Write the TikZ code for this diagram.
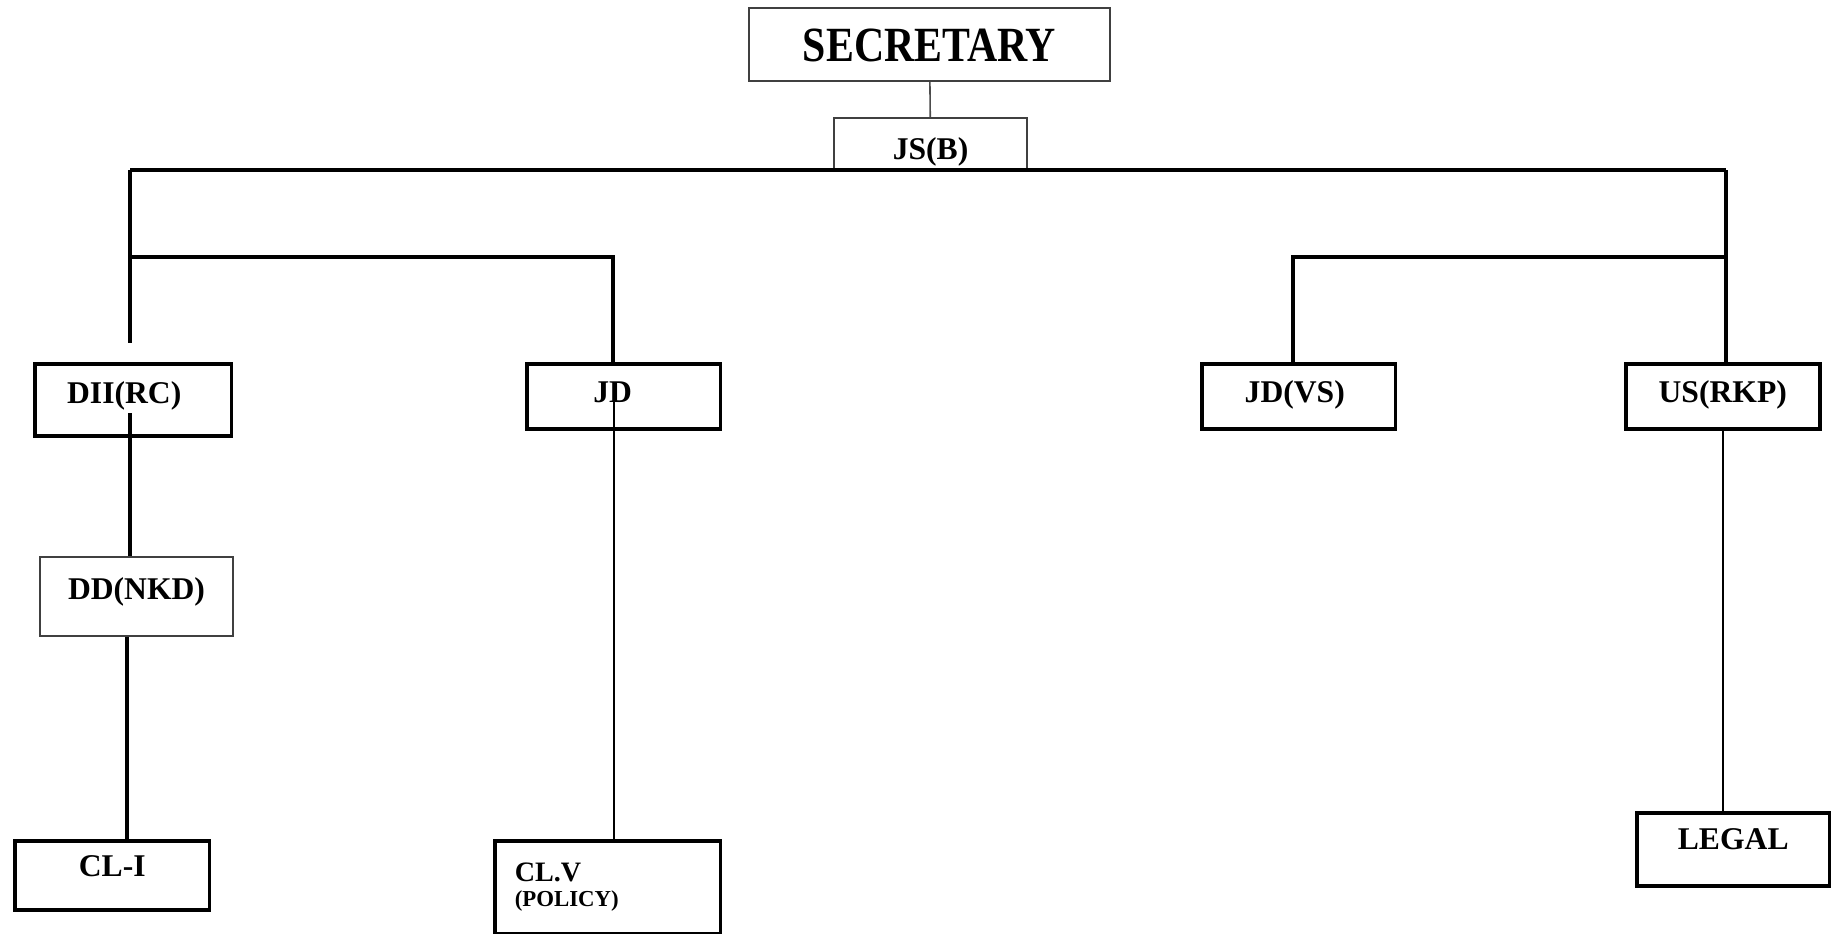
\documentclass[tikz,border=0pt]{standalone}
\usepackage{fontspec}
\setmainfont{Liberation Serif}
\newfontfamily\secfont{Liberation Serif}[FakeStretch=0.85]

\tikzset{
	post/.style={draw, line width=2pt, inner sep=0pt, anchor=north west, font=\fontsize{18}{20}\selectfont\bfseries},
	lightpost/.style={post, draw=black!75, line width=1.2pt},
	link/.style={line width=2pt},
	thinlink/.style={line width=0.9pt},
}

\begin{document}
\begin{tikzpicture}[x=0.02cm, y=-0.02cm]
		%%%%% START %%%%%
		\useasboundingbox (0, 0) rectangle (1831, 933);
		
		\node[lightpost, minimum width=7.22cm, text height=1.06cm, text depth=0.40cm, font=\secfont\bfseries\fontsize{28}{31}\selectfont] (sec) at (748, 7) {SECRETARY};
		\node[lightpost, minimum width=3.86cm, text height=0.82cm, text depth=0.24cm] (jsb) at (833, 117) {JS(B)};
		
		\node[post, minimum width=3.94cm, text height=0.80cm, text depth=0.64cm] (dii) at (33, 362) {DII(RC)\hspace*{0.36cm}};
		\node[post, minimum width=3.88cm, text height=0.78cm, text depth=0.52cm] (jd) at (525, 362) {JD\hspace*{0.44cm}};
		\node[post, minimum width=3.88cm, text height=0.78cm, text depth=0.52cm] (jdvs) at (1200, 362) {JD(VS)\hspace*{0.16cm}};
		\node[post, minimum width=3.88cm, text height=0.78cm, text depth=0.52cm] (usrkp) at (1624, 362) {US(RKP)};
		
		\node[lightpost, minimum width=3.86cm, text height=0.84cm, text depth=0.74cm] (ddnkd) at (39, 556) {DD(NKD)};
		\node[post, minimum width=3.90cm, text height=0.72cm, text depth=0.66cm] (cli) at (13, 839) {CL-I};
		\node[post, text width=3.72cm, inner xsep=0.4cm, minimum height=1.86cm, align=left, font=\fontsize{13}{14}\selectfont\bfseries] (clv) at (493, 839) {{\fontsize{16}{17}\selectfont CL.V}\\(POLICY)\\[4pt]};
		\node[post, minimum width=3.86cm, text height=0.74cm, text depth=0.72cm] (legal) at (1635, 811) {LEGAL};
		
		% bus and tiers
		\coordinate (busL) at (130, 170);
		\coordinate (busR) at (1726, 170);
		\coordinate (tierL) at (613, 257);
		\coordinate (tierR) at (1293, 257);
		\coordinate (diiend) at (130, 343);
		\coordinate (diiin) at (130, 413);
		\coordinate (ddout) at (127, 637);
		\coordinate (jdin) at (614, 397);
		\coordinate (usout) at (1723, 427);
		
		\draw[thinlink, draw=black!70] (sec) -- (jsb);
		\draw[link] (busL) -- (busR);
		\draw[link] (busL) -- (diiend);
		\draw[link] (busL |- tierL) -- (tierL) -- (tierL |- jd.north);
		\draw[link] (busR) -- (busR |- usrkp.north);
		\draw[link] (busR |- tierR) -- (tierR) -- (tierR |- jdvs.north);
		
		\draw[link] (diiin) -- (diiin |- ddnkd.north);
		\draw[link] (ddout) -- (ddout |- cli.north);
		\draw[thinlink] (jdin) -- (jdin |- clv.north);
		\draw[thinlink] (usout) -- (usout |- legal.north);
		
		%%%%% END %%%%%
\end{tikzpicture}
\end{document}
